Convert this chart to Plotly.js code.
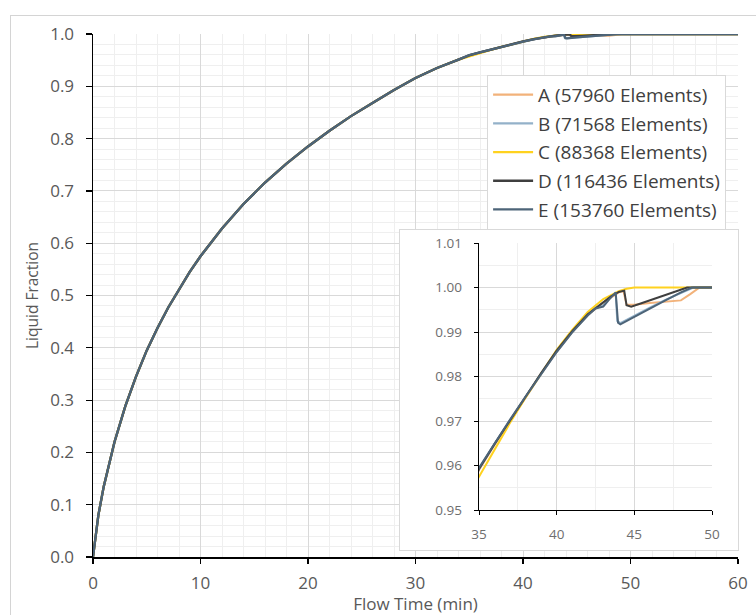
<!DOCTYPE html>
<html>
<head>
<meta charset="utf-8">
<script src="https://cdn.plot.ly/plotly-3.0.1.min.js"></script>
<style>
  html, body { margin: 0; padding: 0; background: #ffffff; }
  #wrap { position: relative; width: 756px; height: 615px; overflow: hidden; }
  #frame { position: absolute; left: 10px; top: 15px; width: 780px; height: 640px;
           border: 1px solid #d4d4d4; box-sizing: border-box; }
  #main { position: absolute; left: 0; top: 0; width: 756px; height: 615px; }
  #inset { position: absolute; left: 399px; top: 229px; width: 338px; height: 320px;
           border: 1px solid #d9d9d9; background: #ffffff; }
</style>
</head>
<body>
<div id="wrap">
  <div id="frame"></div>
  <div id="main"></div>
  <div id="inset"></div>
</div>
<script>
// Common rise of the liquid fraction (all meshes coincide up to ~34 min)
const sharedTime = [0, 0.25, 0.5, 1, 1.5, 2, 3, 4, 5, 6, 7, 8, 9, 10, 12, 14, 16, 18, 20, 22, 24, 26, 28, 30, 32, 34];
const sharedFraction = [0, 0.045, 0.08, 0.135, 0.18, 0.22, 0.288, 0.345, 0.395, 0.438, 0.477, 0.512, 0.545, 0.575, 0.628, 0.675, 0.716, 0.752, 0.785, 0.815, 0.843, 0.868, 0.893, 0.916, 0.935, 0.951];

// Late stage per mesh (35 min onward)
const timeA = [35, 36, 37, 38, 39, 40, 41, 42, 43, 44, 44.3, 44.5, 45, 46, 47, 48, 48.6, 49.2, 50, 55, 60];
const fracA = [0.9590, 0.9646, 0.9700, 0.9754, 0.9806, 0.9856, 0.9900, 0.9938, 0.9966, 0.9989, 0.9992, 0.9961, 0.9961, 0.9965, 0.9968, 0.9971, 0.9985, 1, 1, 1, 1];

const timeB = [35, 36, 37, 38, 39, 40, 41, 42, 42.5, 43, 43.4, 43.8, 43.9, 44.1, 45, 46, 47, 48, 48.8, 50, 55, 60];
const fracB = [0.9593, 0.9649, 0.9702, 0.9755, 0.9806, 0.9856, 0.9900, 0.9938, 0.9954, 0.9960, 0.9976, 0.9988, 0.9925, 0.9920, 0.9937, 0.9955, 0.9972, 0.9988, 1, 1, 1, 1];

const timeC = [35, 36, 37, 38, 39, 40, 41, 42, 43, 44, 44.5, 45, 50, 55, 60];
const fracC = [0.9575, 0.9637, 0.9696, 0.9753, 0.9808, 0.9860, 0.9905, 0.9945, 0.9974, 0.9992, 0.9997, 1, 1, 1, 1];

const timeD = [35, 36, 37, 38, 39, 40, 41, 42, 43, 43.5, 44, 44.35, 44.5, 44.8, 45.5, 46.5, 47.5, 48.4, 50, 55, 60];
const fracD = [0.9592, 0.9648, 0.9702, 0.9756, 0.9808, 0.9858, 0.9902, 0.9940, 0.9968, 0.9980, 0.9990, 0.9993, 0.9960, 0.9957, 0.9965, 0.9977, 0.9989, 1, 1, 1, 1];

const timeE = [35, 36, 37, 38, 39, 40, 41, 42, 42.5, 43, 43.4, 43.8, 43.95, 44.1, 45, 46, 47, 48, 48.7, 50, 55, 60];
const fracE = [0.9595, 0.9650, 0.9703, 0.9755, 0.9806, 0.9855, 0.9899, 0.9937, 0.9953, 0.9957, 0.9974, 0.9989, 0.9921, 0.9917, 0.9934, 0.9953, 0.9971, 0.9989, 1, 1, 1, 1];

const meshNames = ['A (57960 Elements)', 'B (71568 Elements)', 'C (88368 Elements)', 'D (116436 Elements)', 'E (153760 Elements)'];
const meshColors = ['#f2b27a', '#93b1c9', '#ffd21f', '#3f3f3f', '#4d6478'];
const tails = [[timeA, fracA], [timeB, fracB], [timeC, fracC], [timeD, fracD], [timeE, fracE]];

const font = 'Open Sans, Noto Sans, sans-serif';

function buildTraces(forInset) {
  return tails.map(function (tail, i) {
    return {
      type: 'scatter', mode: 'lines',
      x: sharedTime.concat(tail[0]),
      y: sharedFraction.concat(tail[1]),
      name: meshNames[i],
      legendgroup: 'g' + i,
      showlegend: !forInset,
      line: { color: meshColors[i], width: forInset ? 2 : 2.3 },
      hoverinfo: 'skip'
    };
  });
}

const mainLayout = {
  width: 756, height: 615,
  margin: { l: 93, r: 18, t: 34, b: 58 },
  paper_bgcolor: 'rgba(0,0,0,0)',
  plot_bgcolor: '#ffffff',
  font: { family: font, color: '#595959' },
  showlegend: true,
  xaxis: {
    range: [0, 60], tick0: 0, dtick: 10,
    showline: true, linecolor: '#000000', linewidth: 1.5,
    ticks: 'outside', ticklen: 5, tickcolor: '#000000', tickwidth: 1.2,
    ticklabelstandoff: 5,
    tickfont: { size: 17, color: '#595959' },
    showgrid: true, gridcolor: '#d9d9d9', gridwidth: 1,
    minor: { dtick: 2, showgrid: true, gridcolor: '#efefef', gridwidth: 1 },
    zeroline: false,
    title: { text: 'Flow Time (min)', font: { size: 17, color: '#595959' }, standoff: 7 }
  },
  yaxis: {
    range: [0, 1], tick0: 0, dtick: 0.1, tickformat: '.1f',
    showline: true, linecolor: '#000000', linewidth: 1.5,
    ticks: 'outside', ticklen: 6, tickcolor: '#000000', tickwidth: 1.2,
    ticklabelstandoff: 8,
    tickfont: { size: 17, color: '#595959' },
    showgrid: true, gridcolor: '#d9d9d9', gridwidth: 1,
    minor: { dtick: 0.02, showgrid: true, gridcolor: '#efefef', gridwidth: 1 },
    zeroline: false,
    title: { text: 'Liquid Fraction', font: { size: 15.5, color: '#595959' }, standoff: 8 }
  },
  legend: {
    x: 0.611, y: 0.922, xanchor: 'left', yanchor: 'top',
    bgcolor: '#ffffff', bordercolor: '#d9d9d9', borderwidth: 1,
    font: { family: font, size: 19, color: '#404040' },
    traceorder: 'grouped', tracegroupgap: 1, itemwidth: 40
  }
};

const insetLayout = {
  width: 338, height: 320,
  margin: { l: 79, r: 26, t: 13, b: 40 },
  paper_bgcolor: '#ffffff',
  plot_bgcolor: '#ffffff',
  font: { family: font, color: '#6e6e6e' },
  showlegend: false,
  xaxis: {
    range: [35, 50], tick0: 35, dtick: 5,
    showline: true, linecolor: '#000000', linewidth: 1.3,
    ticks: 'outside', ticklen: 4, tickcolor: '#000000',
    ticklabelstandoff: 7,
    tickfont: { size: 13.5, color: '#6e6e6e' },
    showgrid: true, gridcolor: '#d9d9d9',
    minor: { dtick: 2.5, showgrid: true, gridcolor: '#efefef' },
    zeroline: false
  },
  yaxis: {
    range: [0.95, 1.01], tick0: 0.95, dtick: 0.01, tickformat: '.2f',
    showline: true, linecolor: '#000000', linewidth: 1.3,
    ticks: 'outside', ticklen: 4, tickcolor: '#000000',
    ticklabelstandoff: 9,
    tickfont: { size: 13.5, color: '#6e6e6e' },
    showgrid: true, gridcolor: '#d9d9d9',
    minor: { dtick: 0.005, showgrid: true, gridcolor: '#efefef' },
    zeroline: false
  }
};

const cfg = { staticPlot: true, displayModeBar: false };
Plotly.newPlot('main', buildTraces(false), mainLayout, cfg);
Plotly.newPlot('inset', buildTraces(true), insetLayout, cfg);
</script>
</body>
</html>
